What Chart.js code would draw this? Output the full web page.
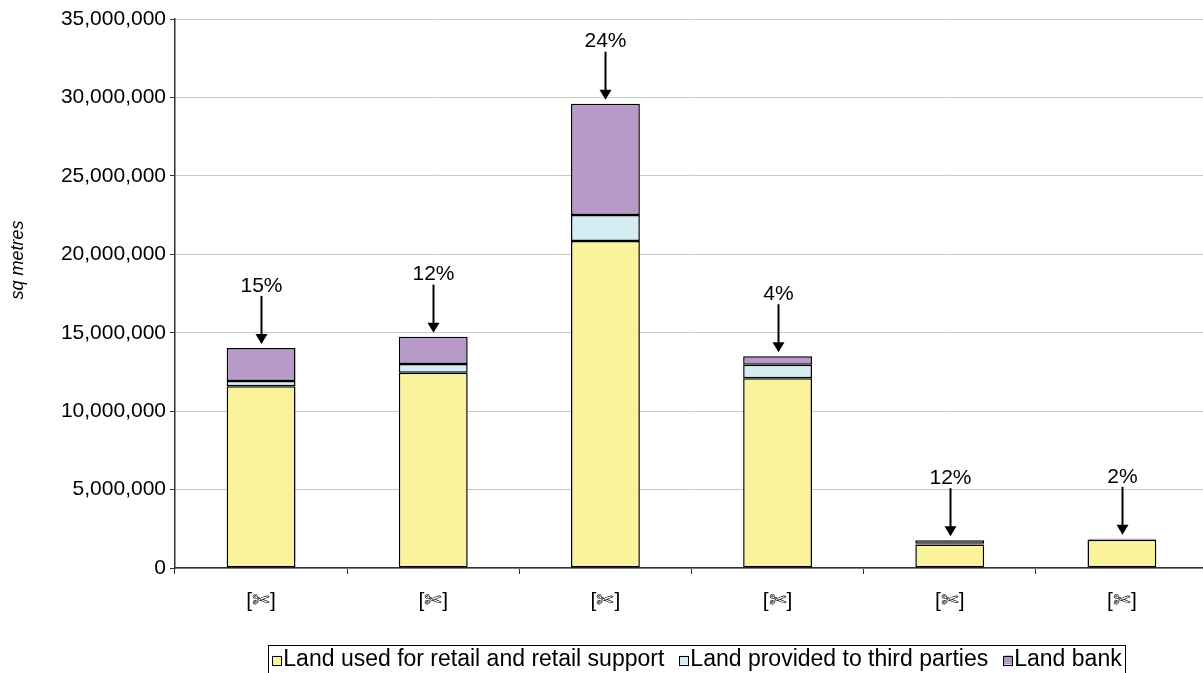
<!DOCTYPE html>
<html>
<head>
<meta charset="utf-8">
<script src="https://cdn.jsdelivr.net/npm/chart.js@4/dist/chart.umd.min.js"></script>
<style>
  html, body { margin: 0; padding: 0; background: #fff; overflow: hidden; }
  #wrap { width: 1208px; height: 673px; }
</style>
</head>
<body>
<div id="wrap"><canvas id="landChart" width="1208" height="673"></canvas></div>
<script>
// ── Data ─────────────────────────────────────────────────────────────────────

const categories  = ['[\u2704]', '[\u2704]', '[\u2704]', '[\u2704]', '[\u2704]', '[\u2704]'];
const retailLand  = [11580000, 12450000, 20850000, 12100000, 1500000, 1800000];
const thirdParty  = [  340000,   550000,  1650000,   850000,   50000,   20000];
const landBank    = [ 2110000,  1750000,  7100000,   550000,  220000,   40000];
const bankShare   = ['15%', '12%', '24%', '4%', '12%', '2%'];
const yTicksMax   = 35000000;
const yTickStep   = 5000000;

const FONT = "'Liberation Sans', Arial, sans-serif";

// ── Plugins ──────────────────────────────────────────────────────────────────

// Percent label + down arrow above each stacked column
const shareArrows = {
    id: 'shareArrows',
    afterDatasetsDraw(chart) {
        const { ctx, scales: { x, y } } = chart;
        ctx.save();
        ctx.fillStyle = '#000';
        ctx.strokeStyle = '#000';
        ctx.lineWidth = 2;
        ctx.font = '21px ' + FONT;
        ctx.textAlign = 'center';
        ctx.textBaseline = 'middle';
        categories.forEach((_, i) => {
            const total = retailLand[i] + thirdParty[i] + landBank[i];
            const cx = Math.round(x.getPixelForValue(i)) + 0.5;
            const top = y.getPixelForValue(total);
            const tip = top - 4;
            ctx.beginPath();
            ctx.moveTo(cx, tip - 48);
            ctx.lineTo(cx, tip - 7);
            ctx.stroke();
            ctx.beginPath();
            ctx.moveTo(cx - 6, tip - 10);
            ctx.lineTo(cx + 6, tip - 10);
            ctx.lineTo(cx, tip);
            ctx.closePath();
            ctx.fill();
            ctx.fillText(bankShare[i], cx, tip - 58);
        });
        ctx.restore();
    }
};

// Rotated axis title and boxed legend along the bottom
const frameExtras = {
    id: 'frameExtras',
    afterDraw(chart) {
        const { ctx } = chart;
        ctx.save();
        ctx.fillStyle = '#000';
        ctx.font = 'italic 18px ' + FONT;
        ctx.textAlign = 'center';
        ctx.textBaseline = 'middle';
        ctx.translate(18, 260);
        ctx.rotate(-Math.PI / 2);
        ctx.fillText('sq metres', 0, 0);
        ctx.restore();

        // legend
        ctx.save();
        ctx.font = '23px ' + FONT;
        ctx.textBaseline = 'middle';
        const items = chart.data.datasets.map(d => ({ text: d.label, fill: d.backgroundColor }));
        const box = 9, gapBox = 2, gapItem = 15;
        let total = 0;
        items.forEach(it => { it.w = box + gapBox + ctx.measureText(it.text).width; total += it.w; });
        total += gapItem * (items.length - 1);
        const cx = 697, cy = 660;
        let xPos = cx - total / 2;
        ctx.strokeStyle = '#000';
        ctx.lineWidth = 1;
        ctx.strokeRect(Math.round(xPos - 4) + 0.5, 645.5, Math.round(total + 8), 40);
        items.forEach(it => {
            ctx.fillStyle = it.fill;
            ctx.fillRect(xPos, cy - box / 2, box, box);
            ctx.strokeStyle = '#000';
            ctx.strokeRect(Math.round(xPos) + 0.5, Math.round(cy - box / 2) + 0.5, box, box);
            ctx.fillStyle = '#000';
            ctx.fillText(it.text, xPos + box + gapBox, cy);
            xPos += it.w + gapItem;
        });
        ctx.restore();
    }
};

// ── Chart ────────────────────────────────────────────────────────────────────

const barStyle = { borderColor: '#000', borderWidth: 1.5, borderSkipped: false, barPercentage: 0.4, categoryPercentage: 1 };

new Chart(document.getElementById('landChart'), {
    type: 'bar',
    data: {
        labels: categories,
        datasets: [
            { label: 'Land used for retail and retail support', data: retailLand, backgroundColor: '#FAF39C', ...barStyle },
            { label: 'Land provided to third parties', data: thirdParty, backgroundColor: '#D4ECF2', ...barStyle },
            { label: 'Land bank', data: landBank, backgroundColor: '#B79AC8', ...barStyle }
        ]
    },
    options: {
        responsive: false,
        animation: false,
        events: [],
        layout: { padding: { top: 19, right: 0, bottom: 55, left: 0 } },
        plugins: {
            legend: { display: false },
            tooltip: { enabled: false }
        },
        scales: {
            x: {
                stacked: true,
                offset: true,
                grid: { offset: true, drawOnChartArea: false, drawTicks: true, tickLength: 6, tickColor: '#333' },
                border: { color: '#333', width: 1.5 },
                ticks: { color: '#000', font: { family: FONT, size: 21 }, padding: 15, maxRotation: 0 },
                afterFit(s) { s.height = 50; }
            },
            y: {
                stacked: true,
                min: 0,
                max: yTicksMax,
                grid: { color: '#c8c8c8', lineWidth: 1, tickLength: 5, tickColor: '#333' },
                border: { color: '#333', width: 1.5 },
                ticks: {
                    stepSize: yTickStep,
                    color: '#000',
                    font: { family: FONT, size: 21 },
                    padding: 4,
                    callback: v => v.toLocaleString('en-US')
                },
                afterFit(s) { s.width = 175; }
            }
        }
    },
    plugins: [shareArrows, frameExtras]
});
</script>
</body>
</html>
